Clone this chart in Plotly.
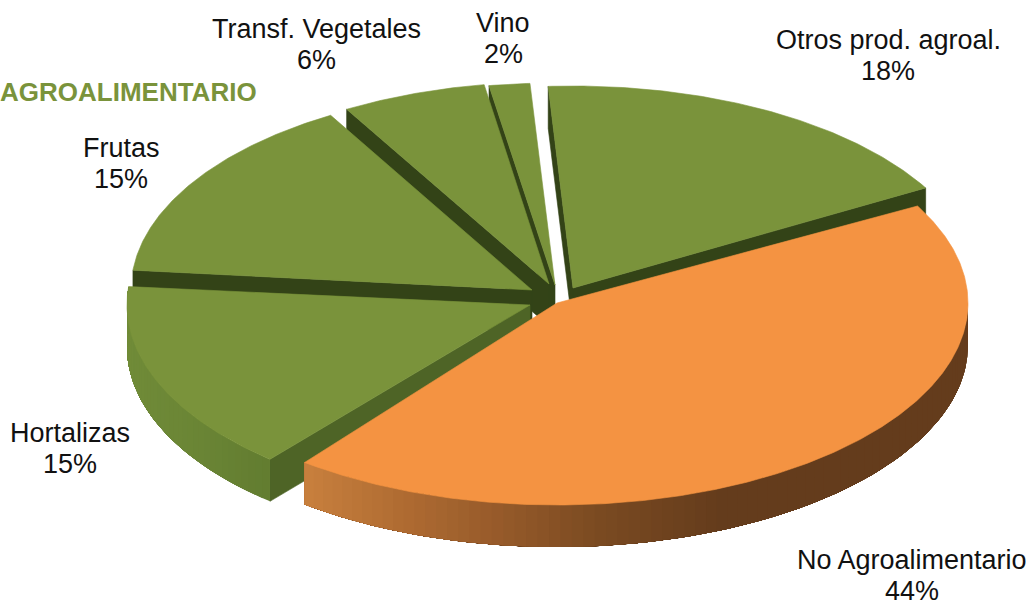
import math
import plotly.graph_objects as go

# --- data -------------------------------------------------------------
categories = ["Otros prod. agroal.", "No Agroalimentario", "Hortalizas", "Frutas", "Transf. Vegetales", "Vino"]
values = [18.0, 43.8, 15.4, 15.4, 5.8, 1.6]

# --- pie geometry / style (not data) ----------------------------------
START_ANGLE = -3.5
DEPTH = 42
apex = {"Otros prod. agroal.": (573, 288), "No Agroalimentario": (557, 303), "Hortalizas": (530, 305),
        "Frutas": (532, 290), "Transf. Vegetales": (549, 284), "Vino": (555, 285)}
radius_x = {"Otros prod. agroal.": 406, "No Agroalimentario": 411, "Hortalizas": 403,
            "Frutas": 401, "Transf. Vegetales": 403, "Vino": 410}
# small visual corrections of the slice edges (degrees) for the 3D perspective
edge_trim = {"Otros prod. agroal.": (0, -1.0), "No Agroalimentario": (0, -1.1), "Hortalizas": (1.2, 0.8),
             "Frutas": (1.2, 0), "Transf. Vegetales": (0, 0), "Vino": (0, 0)}
RY = 202
draw_order = ["Vino", "Otros prod. agroal.", "Transf. Vegetales", "Frutas", "Hortalizas", "No Agroalimentario"]
GREEN, ORANGE = "#7A933B", "#F49342"
DARK, FRONT_CUT = "#334317", "#4E6426"
label_pos = {"Otros prod. agroal.": (888, 40, 71), "No Agroalimentario": (912, 560, 591), "Hortalizas": (70, 433, 464),
             "Frutas": (121, 148, 179), "Transf. Vegetales": (316, 29, 60), "Vino": (503, 23, 54)}
orange_stops = [(305, (200, 128, 62)), (400, (176, 108, 50)), (500, (150, 90, 42)), (600, (122, 74, 33)), (720, (100, 60, 28)), (970, (100, 60, 28))]
green_stops = [(127, (112, 139, 56)), (200, (106, 133, 53)), (271, (98, 124, 48))]


def ramp(x, stops):
    for (x0, c0), (x1, c1) in zip(stops, stops[1:]):
        if x <= x1:
            t = max(0, (x - x0) / (x1 - x0))
            return "rgb(%d,%d,%d)" % tuple(round(a + (b - a) * t) for a, b in zip(c0, c1))
    return "rgb(%d,%d,%d)" % stops[-1][1]


fig = go.Figure()


def poly(xs, ys, color, lw=0.6):
    fig.add_trace(go.Scatter(x=xs + xs[:1], y=ys + ys[:1], mode="lines", fill="toself", fillcolor=color,
                             line=dict(color=color, width=lw), hoverinfo="skip", showlegend=False))


def rim(name, a):
    ax, ay = apex[name]
    r = math.radians(a)
    return ax + radius_x[name] * math.sin(r), ay - RY * math.cos(r)


angles = {}
a = START_ANGLE
for name, v in zip(categories, values):
    t0, t1 = edge_trim[name]
    angles[name] = (a + t0, a + v * 3.6 + t1)
    a += v * 3.6

for name in draw_order:
    a0, a1 = angles[name]
    ax, ay = apex[name]
    p0 = rim(name, a0)
    p1 = rim(name, a1)
    if name == "Otros prod. agroal.":
        poly([p1[0], ax, ax, p1[0]], [p1[1], ay, ay + DEPTH, p1[1] + DEPTH], DARK)
        poly([p0[0], ax, ax, p0[0]], [p0[1], ay, ay + DEPTH, p0[1] + DEPTH], DARK)
    elif name in ("Frutas", "Transf. Vegetales", "Vino"):
        poly([p0[0], ax, ax, p0[0]], [p0[1], ay, ay + DEPTH, p0[1] + DEPTH], DARK)
    elif name == "Hortalizas":
        poly([p0[0], ax, ax, p0[0]], [p0[1], ay, ay + DEPTH, p0[1] + DEPTH], FRONT_CUT)
    # outer wall: painter's bands, each one reaching to the far end so no seams appear
    w0, w1 = max(a0, 90), min(a1, 270)
    if name == "Hortalizas":
        w1 = a1
    if w1 > w0:
        n = 80 if name == "No Agroalimentario" else 40
        stops = orange_stops if name == "No Agroalimentario" else green_stops
        for i in range(n):
            b0 = w0 + (w1 - w0) * i / n
            arc = [rim(name, b0 + (w1 - b0) * j / (n - i + 1)) for j in range(n - i + 2)]
            colour = ramp(rim(name, b0 + (w1 - w0) / (2 * n))[0], stops)
            xs = [p[0] for p in arc]
            ys = [p[1] for p in arc]
            poly(xs + xs[::-1], ys + [y + DEPTH for y in ys[::-1]], colour, lw=0)
    # top face
    steps = max(8, int((a1 - a0) * 2))
    pts = [rim(name, a0 + (a1 - a0) * i / steps) for i in range(steps + 1)]
    poly([ax] + [p[0] for p in pts], [ay] + [p[1] for p in pts], ORANGE if name == "No Agroalimentario" else GREEN)

font = dict(family="Liberation Sans, Arial, sans-serif", size=27, color="#111111")
for name, v in zip(categories, values):
    x, y1, y2 = label_pos[name]
    for y, txt in ((y1, name), (y2, f"{round(v)}%")):
        fig.add_annotation(x=x, y=y, text=txt, showarrow=False, font=font, xanchor="center", yanchor="middle")

fig.add_annotation(x=259, y=92, text="<b>AGROALIMENTARIO</b>", showarrow=False, xanchor="right", yanchor="middle",
                   font=dict(family="Liberation Sans, Arial, sans-serif", size=26, color="#7A933B"))

fig.update_xaxes(range=[0, 1033], visible=False, fixedrange=True)
fig.update_yaxes(range=[603, 0], visible=False, fixedrange=True)
fig.update_layout(width=1033, height=603, margin=dict(l=0, r=0, t=0, b=0), paper_bgcolor="white", plot_bgcolor="white", showlegend=False)
fig.write_html("out.html", config={"displayModeBar": False},
               post_script="document.body.style.margin='0';document.documentElement.style.overflow='hidden';")
